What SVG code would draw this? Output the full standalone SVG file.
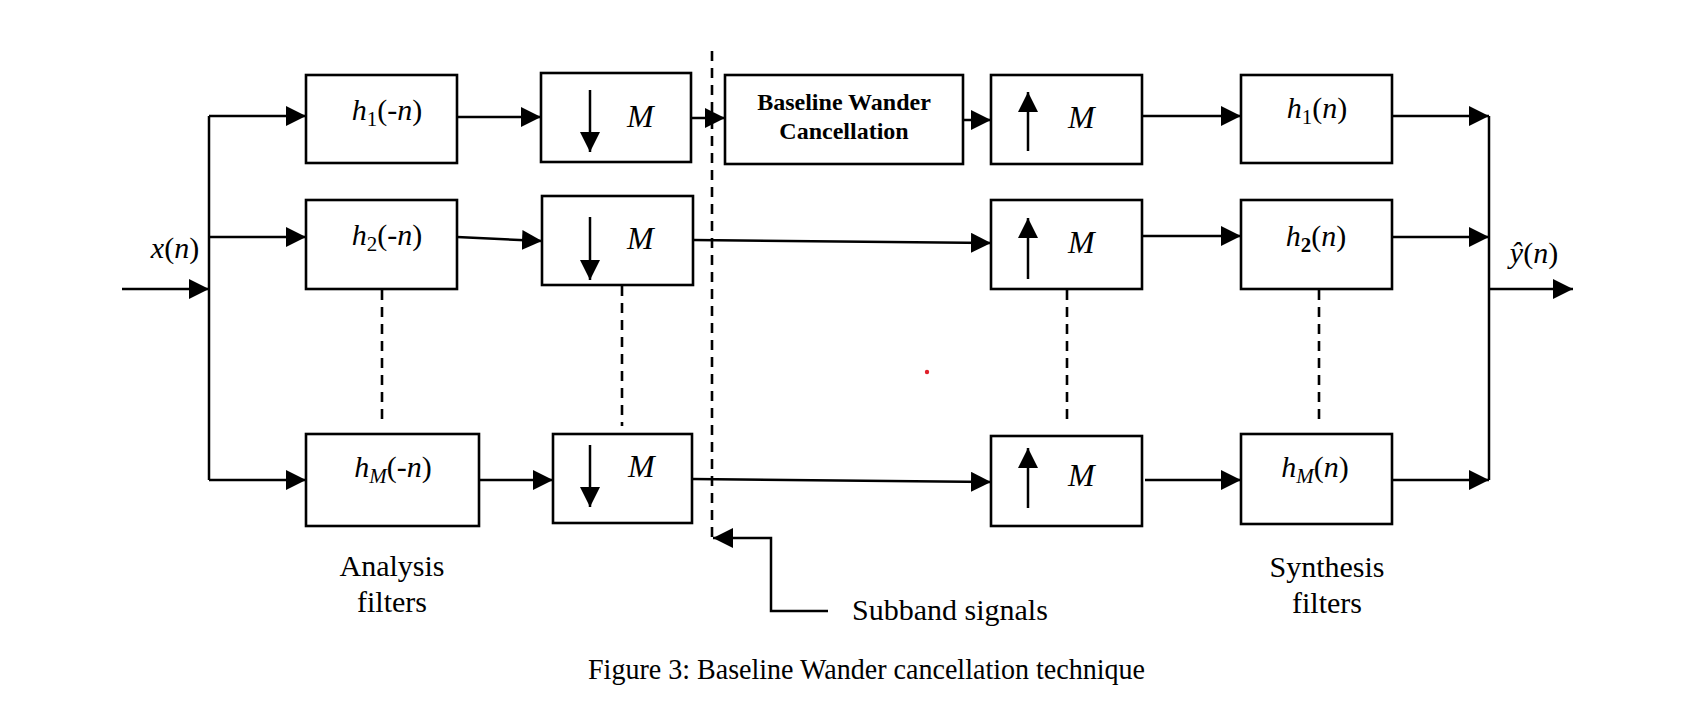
<svg xmlns="http://www.w3.org/2000/svg" width="1697" height="722" viewBox="0 0 1697 722">
<defs>
<marker id="ah" markerUnits="userSpaceOnUse" markerWidth="20" markerHeight="20" refX="20" refY="10" orient="auto">
<path d="M0,0 L20,10 L0,20 Z" fill="#000"/>
</marker>
<style>
.box{fill:#fff;stroke:#000;stroke-width:2.6}
.ln{fill:none;stroke:#000;stroke-width:2.5}
.ar{fill:none;stroke:#000;stroke-width:2.5;marker-end:url(#ah)}
.dash{fill:none;stroke:#000;stroke-width:2.6;stroke-dasharray:10 7}
.t{font-family:"Liberation Serif","Times New Roman",serif;font-size:30px;fill:#000}
.mm{font-size:32px}
.m{font-family:"Liberation Serif","Times New Roman",serif;font-size:30px;fill:#000;text-anchor:middle}
.i{font-style:italic}
.sub{font-size:21px}
.b{font-family:"Liberation Serif","Times New Roman",serif;font-size:24px;font-weight:bold;fill:#000;text-anchor:middle}
</style>
</defs>
<rect width="1697" height="722" fill="#fff"/>

<g id="connectors">
<line class="ar" x1="122" y1="289" x2="209" y2="289"/>
<line class="ln" x1="209" y1="116" x2="209" y2="480"/>
<line class="ar" x1="209" y1="116" x2="306" y2="116"/>
<line class="ar" x1="209" y1="237" x2="306" y2="237"/>
<line class="ar" x1="209" y1="480" x2="306" y2="480"/>
<line class="ar" x1="457" y1="117" x2="541" y2="117"/>
<line class="ar" x1="457" y1="237" x2="542" y2="241"/>
<line class="ar" x1="479" y1="480" x2="553" y2="480"/>
<line class="ar" x1="690" y1="118" x2="725" y2="118"/>
<line class="ar" x1="693" y1="240" x2="991" y2="243"/>
<line class="ar" x1="692" y1="479" x2="991" y2="482"/>
<line class="ar" x1="963" y1="120" x2="991" y2="120"/>
<line class="ar" x1="1142" y1="116" x2="1241" y2="116"/>
<line class="ar" x1="1142" y1="236" x2="1241" y2="236"/>
<line class="ar" x1="1145" y1="480" x2="1241" y2="480"/>
<line class="ar" x1="1392" y1="116" x2="1489" y2="116"/>
<line class="ar" x1="1392" y1="237" x2="1489" y2="237"/>
<line class="ar" x1="1392" y1="480" x2="1489" y2="480"/>
<line class="ln" x1="1489" y1="116" x2="1489" y2="480"/>
<line class="ar" x1="1489" y1="289" x2="1573" y2="289"/>
<line class="dash" x1="382" y1="290" x2="382" y2="426"/>
<line class="dash" x1="622" y1="286" x2="622" y2="426"/>
<line class="dash" x1="1067" y1="290" x2="1067" y2="426"/>
<line class="dash" x1="1319" y1="290" x2="1319" y2="426"/>
<line class="dash" x1="712" y1="51" x2="712" y2="537"/>
<path class="ar" d="M828,611 H771 V538 H713"/>
</g>

<g id="a1">
<rect class="box" x="306" y="75" width="151" height="88"/>
<text class="m" x="387" y="120"><tspan class="i">h</tspan><tspan class="sub" dy="6">1</tspan><tspan dy="-6">(-</tspan><tspan class="i">n</tspan>)</text>
</g>
<g id="a2">
<rect class="box" x="306" y="200" width="151" height="89"/>
<text class="m" x="387" y="245"><tspan class="i">h</tspan><tspan class="sub" dy="6">2</tspan><tspan dy="-6">(-</tspan><tspan class="i">n</tspan>)</text>
</g>
<g id="a3">
<rect class="box" x="306" y="434" width="173" height="92"/>
<text class="m" x="393" y="477"><tspan class="i">h</tspan><tspan class="sub i" dy="6">M</tspan><tspan dy="-6">(-</tspan><tspan class="i">n</tspan>)</text>
</g>

<g id="d1">
<rect class="box" x="541" y="73" width="150" height="89"/>
<line class="ar" x1="590" y1="90" x2="590" y2="152"/>
<text class="t mm i" x="627" y="127">M</text>
</g>
<g id="d2">
<rect class="box" x="542" y="196" width="151" height="89"/>
<line class="ar" x1="590" y1="217" x2="590" y2="280"/>
<text class="t mm i" x="627" y="249">M</text>
</g>
<g id="d3">
<rect class="box" x="553" y="434" width="139" height="89"/>
<line class="ar" x1="590" y1="445" x2="590" y2="507"/>
<text class="t mm i" x="628" y="477">M</text>
</g>

<g id="bwc">
<rect class="box" x="725" y="75" width="238" height="89"/>
<text class="b" x="844" y="110">Baseline Wander</text>
<text class="b" x="844" y="139">Cancellation</text>
</g>

<g id="u1">
<rect class="box" x="991" y="75" width="151" height="89"/>
<line class="ar" x1="1028" y1="151" x2="1028" y2="92"/>
<text class="t mm i" x="1068" y="128">M</text>
</g>
<g id="u2">
<rect class="box" x="991" y="200" width="151" height="89"/>
<line class="ar" x1="1028" y1="279" x2="1028" y2="218"/>
<text class="t mm i" x="1068" y="253">M</text>
</g>
<g id="u3">
<rect class="box" x="991" y="436" width="151" height="90"/>
<line class="ar" x1="1028" y1="508" x2="1028" y2="448"/>
<text class="t mm i" x="1068" y="486">M</text>
</g>

<g id="s1">
<rect class="box" x="1241" y="75" width="151" height="88"/>
<text class="m" x="1317" y="118"><tspan class="i">h</tspan><tspan class="sub" dy="6">1</tspan><tspan dy="-6">(</tspan><tspan class="i">n</tspan>)</text>
</g>
<g id="s2">
<rect class="box" x="1241" y="200" width="151" height="89"/>
<text class="m" x="1316" y="246"><tspan class="i">h</tspan><tspan class="sub" dy="6" font-weight="bold">2</tspan><tspan dy="-6">(</tspan><tspan class="i">n</tspan>)</text>
</g>
<g id="s3">
<rect class="box" x="1241" y="434" width="151" height="90"/>
<text class="m" x="1315" y="477"><tspan class="i">h</tspan><tspan class="sub i" dy="6">M</tspan><tspan dy="-6">(</tspan><tspan class="i">n</tspan>)</text>
</g>

<g id="labels">
<text class="m" x="175" y="258"><tspan class="i">x</tspan>(<tspan class="i">n</tspan>)</text>
<text class="m" x="1534" y="263"><tspan class="i">ŷ</tspan>(<tspan class="i">n</tspan>)</text>
<text class="m" x="392" y="576">Analysis</text>
<text class="m" x="392" y="612">filters</text>
<text class="m" x="1327" y="577">Synthesis</text>
<text class="m" x="1327" y="613">filters</text>
<text class="t" x="852" y="620">Subband signals</text>
<text class="t" x="588" y="679" textLength="557" lengthAdjust="spacingAndGlyphs">Figure 3: Baseline Wander cancellation technique</text>
</g>
<circle cx="927" cy="372" r="2.2" fill="#e0202a"/>
</svg>
